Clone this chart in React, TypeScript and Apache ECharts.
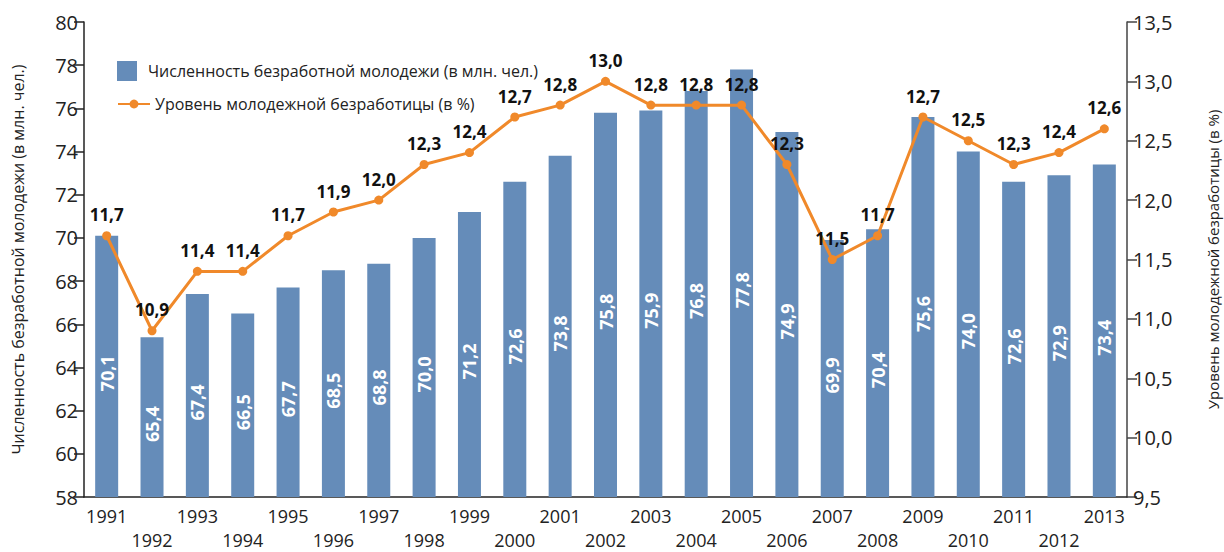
import React, { useEffect, useRef } from "react";
import * as echarts from "echarts";

const years = ["1991","1992","1993","1994","1995","1996","1997","1998","1999","2000","2001","2002","2003","2004","2005","2006","2007","2008","2009","2010","2011","2012","2013"];
const youthUnemployed = [70.1, 65.4, 67.4, 66.5, 67.7, 68.5, 68.8, 70.0, 71.2, 72.6, 73.8, 75.8, 75.9, 76.8, 77.8, 74.9, 69.9, 70.4, 75.6, 74.0, 72.6, 72.9, 73.4];
const youthRate = [11.7, 10.9, 11.4, 11.4, 11.7, 11.9, 12.0, 12.3, 12.4, 12.7, 12.8, 13.0, 12.8, 12.8, 12.8, 12.3, 11.5, 11.7, 12.7, 12.5, 12.3, 12.4, 12.6];

const barName = "Численность безработной молодежи (в млн. чел.)";
const lineName = "Уровень молодежной безработицы (в %)";
const leftAxisName = "Численность безработной молодежи (в млн. чел.)";
const rightAxisName = "Уровень молодежной безработицы (в %)";

const FONT = "'Open Sans', 'Noto Sans', sans-serif";
const comma1 = (v: number) => v.toFixed(1).replace(".", ",");
const BAR_COLOR = "#658cb9";
const LINE_COLOR = "#f0892a";

export default function App() {
  const ref = useRef<HTMLDivElement>(null);
  useEffect(() => {
    if (!ref.current) return;
    const chart = echarts.init(ref.current, undefined, { renderer: "svg" });
    chart.setOption({
      animation: false,
      textStyle: { fontFamily: FONT },
      legend: [
        {
          left: 112,
          top: 56,
          itemWidth: 32,
          itemHeight: 20,
          icon: "path://M0,0h20v20h-20z",
          textStyle: { fontSize: 16, color: "#222", fontFamily: FONT },
          data: [barName],
        },
        {
          left: 112,
          top: 91,
          itemWidth: 32,
          itemHeight: 11,
          textStyle: { fontSize: 16, color: "#222", fontFamily: FONT },
          data: [lineName],
        },
      ],
      grid: { left: 84, right: 97, top: 22, bottom: 55, containLabel: false, outerBoundsMode: "none" },
      xAxis: {
        type: "category",
        data: years,
        boundaryGap: true,
        axisLine: { lineStyle: { color: "#222", width: 1.5 } },
        axisTick: {
          alignWithLabel: true,
          interval: (i: number) => i % 2 === 1,
          length: 30,
          lineStyle: { color: "#222", width: 1.5 },
        },
        axisLabel: {
          interval: 0,
          margin: 7,
          fontSize: 18,
          color: "#222",
          lineHeight: 24,
          fontFamily: FONT,
          formatter: (v: string, i: number) => (i % 2 === 1 ? "\n" + v : v),
        },
      },
      yAxis: [
        {
          type: "value",
          min: 58,
          max: 80,
          interval: 2,
          position: "left",
          name: leftAxisName,
          nameLocation: "middle",
          nameGap: 58,
          nameRotate: 90,
          nameTextStyle: { fontSize: 16, color: "#222", fontFamily: FONT },
          axisLine: { show: true, lineStyle: { color: "#222", width: 1.5 } },
          axisTick: { show: true, length: 10, lineStyle: { color: "#222", width: 1.5 } },
          axisLabel: { fontSize: 20, color: "#222", margin: 6, fontFamily: FONT },
          splitLine: { show: false },
        },
        {
          type: "value",
          min: 9.5,
          max: 13.5,
          interval: 0.5,
          position: "right",
          name: rightAxisName,
          nameLocation: "middle",
          nameGap: 78,
          nameRotate: 90,
          nameTextStyle: { fontSize: 15, color: "#222", fontFamily: FONT },
          axisLine: { show: true, lineStyle: { color: "#444", width: 1.5 } },
          axisTick: { show: true, length: 10, lineStyle: { color: "#444", width: 1.5 } },
          axisLabel: { fontSize: 20, color: "#222", margin: 6, fontFamily: FONT, formatter: (v: number) => comma1(v) },
          splitLine: { show: false },
        },
      ],
      series: [
        {
          name: barName,
          type: "bar",
          yAxisIndex: 0,
          data: youthUnemployed,
          barWidth: 23,
          itemStyle: { color: BAR_COLOR },
          label: {
            show: true,
            position: "inside",
            rotate: 90,
            offset: [-7, 0],
            color: "#fff",
            fontSize: 18,
            fontWeight: "bold",
            fontFamily: FONT,
            formatter: (p: any) => comma1(p.value),
          },
        },
        {
          name: lineName,
          type: "line",
          yAxisIndex: 1,
          data: youthRate,
          z: 5,
          symbol: "circle",
          symbolSize: 9,
          lineStyle: { color: LINE_COLOR, width: 3 },
          itemStyle: { color: LINE_COLOR },
          label: {
            show: true,
            position: "top",
            distance: 8,
            color: "#111",
            fontSize: 17,
            fontWeight: "bold",
            fontFamily: FONT,
            formatter: (p: any) => comma1(p.value),
          },
        },
      ],
    });
    return () => chart.dispose();
  }, []);
  return <div ref={ref} style={{ position: "absolute", left: 0, top: 0, width: 1224, height: 552 }} />;
}
